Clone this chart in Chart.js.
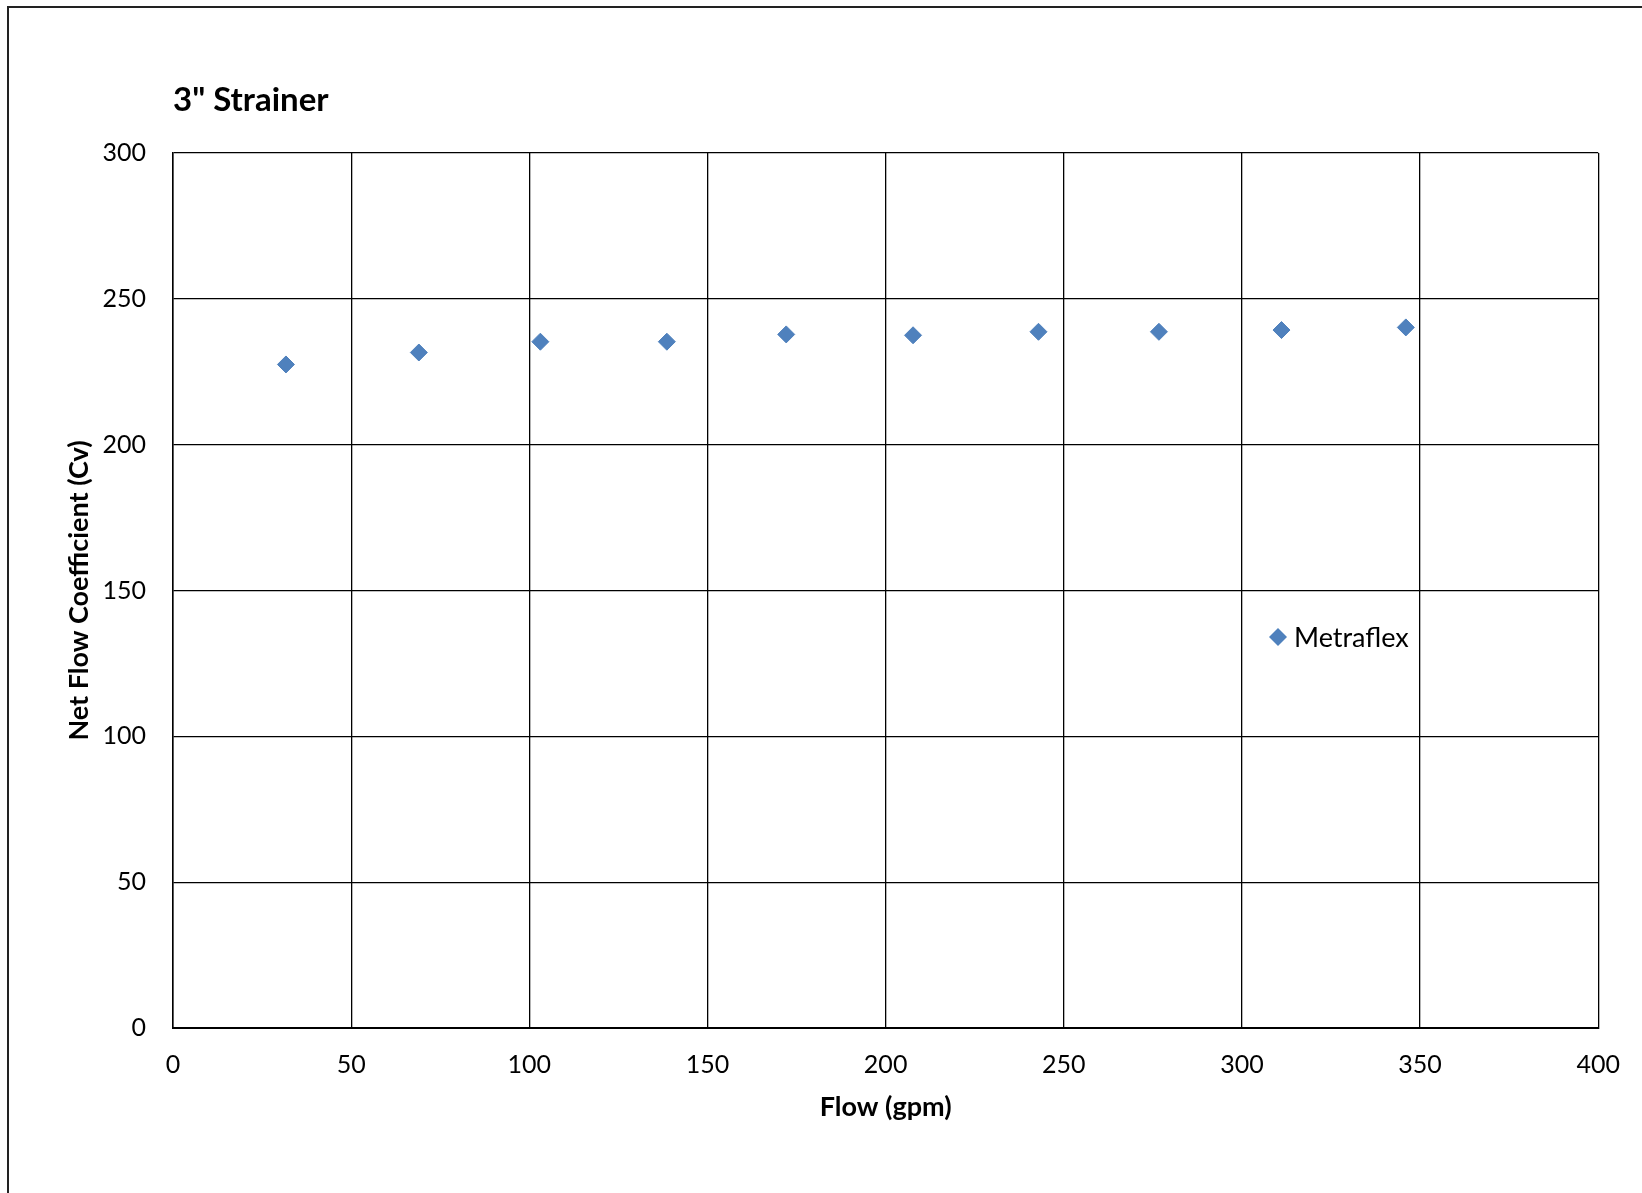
<!DOCTYPE html>
<html>
<head>
<meta charset="utf-8">
<title>3" Strainer</title>
<script src="https://cdn.jsdelivr.net/npm/chart.js@4.4.0/dist/chart.umd.min.js"></script>
<style>
  html, body { margin: 0; padding: 0; background: #fff; }
  #wrap { width: 1642px; height: 1193px; position: relative; }
</style>
</head>
<body>
<div id="wrap"><canvas id="chart" width="1642" height="1193"></canvas></div>
<script>
// Measured data: flow rate vs. net flow coefficient
const flowGpm = [31.7, 69.0, 103.1, 138.6, 172.1, 207.7, 242.9, 276.7, 311.1, 346.0];
const netCv   = [227.5, 231.6, 235.3, 235.3, 237.8, 237.5, 238.7, 238.7, 239.3, 240.2];
const seriesName = 'Metraflex';

const chartTitle = '3" Strainer';
const xAxisTitle = 'Flow (gpm)';
const yAxisTitle = 'Net Flow Coefficient (Cv)';

const xTickValues = [0, 50, 100, 150, 200, 250, 300, 350, 400];
const yTickValues = [0, 50, 100, 150, 200, 250, 300];

const FONT = 'Lato, "Open Sans", sans-serif';
const MARKER = '#4F81BD';

// Outer frame around the chart
const framePlugin = {
  id: 'frame',
  beforeDraw(chart) {
    const ctx = chart.ctx;
    ctx.save();
    ctx.fillStyle = '#fff';
    ctx.fillRect(0, 0, chart.width, chart.height);
    ctx.strokeStyle = '#222';
    ctx.lineWidth = 2;
    ctx.beginPath();
    ctx.moveTo(8, chart.height + 2);
    ctx.lineTo(8, 7);
    ctx.lineTo(chart.width + 2, 7);
    ctx.stroke();
    ctx.restore();
  }
};

// Single-entry legend drawn inside the plot area
const insideLegend = {
  id: 'insideLegend',
  afterDatasetsDraw(chart) {
    const ctx = chart.ctx;
    const ds = chart.data.datasets[0];
    const cx = 1278, cy = 637, r = 9;
    ctx.save();
    ctx.fillStyle = ds.backgroundColor;
    ctx.beginPath();
    ctx.moveTo(cx - r, cy);
    ctx.lineTo(cx, cy - r);
    ctx.lineTo(cx + r, cy);
    ctx.lineTo(cx, cy + r);
    ctx.closePath();
    ctx.fill();
    ctx.fillStyle = '#000';
    ctx.font = '27px ' + FONT;
    ctx.textBaseline = 'middle';
    ctx.textAlign = 'left';
    ctx.fillText(ds.label, 1294, cy + 1);
    ctx.restore();
  }
};

new Chart(document.getElementById('chart'), {
  type: 'scatter',
  data: {
    datasets: [{
      label: seriesName,
      data: flowGpm.map((x, i) => ({ x, y: netCv[i] })),
      backgroundColor: MARKER,
      borderColor: MARKER,
      pointStyle: 'rectRot',
      pointRadius: 8.5,
      pointHoverRadius: 8.5,
      pointBorderWidth: 1
    }]
  },
  options: {
    responsive: false,
    animation: false,
    devicePixelRatio: 1,
    layout: { padding: { left: 8, right: 41, top: 0, bottom: 0 } },
    plugins: {
      legend: { display: false },
      tooltip: { enabled: false },
      title: {
        display: true,
        text: chartTitle,
        align: 'start',
        fullSize: false,
        color: '#000',
        font: { family: FONT, size: 33, weight: 'bold', lineHeight: 1.2 },
        padding: { top: 81, bottom: 32.4 }
      }
    },
    scales: {
      x: {
        type: 'linear',
        min: xTickValues[0],
        max: xTickValues[xTickValues.length - 1],
        afterBuildTicks(scale) { scale.ticks = xTickValues.map(v => ({ value: v })); },
        afterFit(scale) { scale.height = 1193 - 1028; },
        grid: { color: '#000', lineWidth: 1.3, drawTicks: false },
        border: { color: '#000', width: 2 },
        ticks: { color: '#000', padding: 22, font: { family: FONT, size: 25 } },
        title: {
          display: true, text: xAxisTitle, color: '#000',
          font: { family: FONT, size: 27, weight: 'bold', lineHeight: 1.2 },
          padding: { top: 0, bottom: 70 }
        }
      },
      y: {
        type: 'linear',
        min: yTickValues[0],
        max: yTickValues[yTickValues.length - 1],
        afterBuildTicks(scale) { scale.ticks = yTickValues.map(v => ({ value: v })); },
        afterFit(scale) { scale.width = 165; },
        grid: { color: '#000', lineWidth: 1.3, drawTicks: false },
        border: { color: '#000', width: 1.5 },
        ticks: { color: '#000', padding: 27, font: { family: FONT, size: 25 } },
        title: {
          display: true, text: yAxisTitle, color: '#000',
          font: { family: FONT, size: 27, weight: 'bold', lineHeight: 1.2 },
          padding: { top: 55, bottom: 0 }
        }
      }
    }
  },
  plugins: [framePlugin, insideLegend]
});
</script>
</body>
</html>
